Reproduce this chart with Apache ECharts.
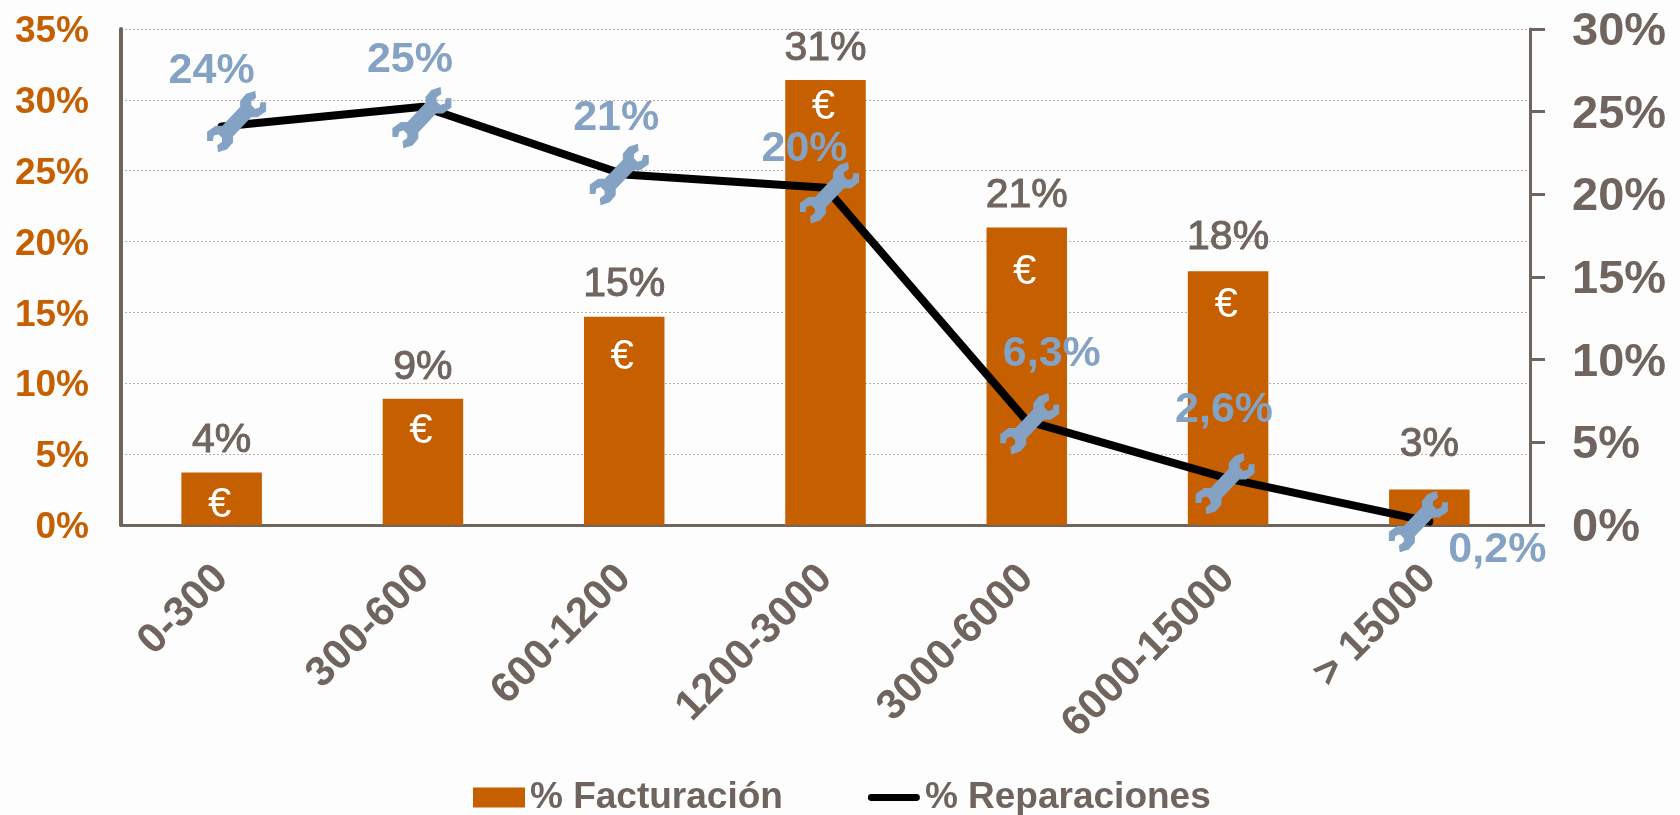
<!DOCTYPE html>
<html><head><meta charset="utf-8">
<style>html,body{margin:0;padding:0;background:#fdfdfd}#c{width:1680px;height:815px}</style>
<script src="https://cdn.jsdelivr.net/npm/echarts@6/dist/echarts.min.js"></script>
</head><body><div id="c"></div>
<script>
const categories = ['0-300','300-600','600-1200','1200-3000','3000-6000','6000-15000','> 15000'];
const facturacion = [3.7, 8.9, 14.7, 31.4, 21.0, 17.9, 2.5];
const reparaciones = [24.1, 25.3, 21.2, 20.4, 6.3, 2.8, 0.2];
const facturacionLabels = ['4%','9%','15%','31%','21%','18%','3%'];
const euroLabels = ['€','€','€','€','€','€',''];
const reparacionesLabels = ['24%','25%','21%','20%','6,3%','2,6%','0,2%'];
const leftTicks = [0,5,10,15,20,25,30,35];
const rightTicks = [0,5,10,15,20,25,30];
const wrenchOffsets = [[15,-5],[-1,11],[-5,0],[4,5],[3,3],[-3,5],[-11,0]];
const labelOffsets = [[-25,-50],[-12,-58],[-3,-56],[-25,-44],[22,-70],[-1,-74],[79,28]];
const barLabelOffsets = [0,0,0,0,0,-2,-13];
const euroOffsets = [6,6,14,0,18,7,0];

const ORANGE='#C55F00', BROWN='#6F645E', BLUE='#84A2C3';
const FONT='"Liberation Sans", Arial, sans-serif';
const WRENCH='path://M135 30L160 22L162 40L148 50L148 63L160 75L175 70L178 55L192 55L192 80L168 97L148 97L94 154L94 172L77 192L52 200L50 182L64 172L64 159L52 147L37 152L34 167L20 167L20 142L44 125L64 125L118 68L118 50Z';
const LEGEND_LINE='path://M0 0L0 0M0 20L0 20M3 6.5H49A3.5 3.5 0 0 1 49 13.5H3A3.5 3.5 0 0 1 3 6.5Z';

const chart = echarts.init(document.getElementById('c'), null, {renderer:'canvas'});
chart.setOption({
  animation:false,
  backgroundColor:'#fdfdfd',
  textStyle:{fontFamily:FONT},
  grid:{left:121,right:150,top:29,bottom:290,containLabel:false},
  legend:{
    left:468, top:774, itemGap:85, itemWidth:52, itemHeight:20,
    textStyle:{fontSize:37,fontWeight:'bold',color:BROWN,fontFamily:FONT},
    data:[
      {name:'% Facturación',icon:'rect',itemStyle:{color:ORANGE,borderWidth:0}},
      {name:'% Reparaciones',icon:LEGEND_LINE,itemStyle:{color:'#000',borderColor:'#000',borderWidth:0}}
    ]
  },
  xAxis:{
    type:'category',data:categories,
    axisLine:{lineStyle:{color:BROWN,width:3}},
    axisTick:{show:false},
    axisLabel:{interval:0,rotate:45,margin:47,fontSize:42,fontWeight:'bold',color:BROWN,fontFamily:FONT}
  },
  yAxis:[
    {type:'value',min:0,max:35,interval:5,
     axisLine:{show:true,lineStyle:{color:BROWN,width:4}},
     axisTick:{show:false},
     axisLabel:{margin:32,
       rich:{a:{fontSize:37,fontWeight:'bold',color:ORANGE,fontFamily:FONT,padding:[6,0,0,0]}},
       formatter:v=>leftTicks.includes(v)?'{a|'+v+'%}':''},
     splitLine:{show:true,lineStyle:{color:'#B9B0AB',width:1,type:[2,2]}}},
    {type:'value',min:0,max:30,interval:5,position:'right',
     axisLine:{show:true,lineStyle:{color:BROWN,width:3}},
     axisTick:{show:true,length:15,lineStyle:{color:BROWN,width:3}},
     axisLabel:{margin:42,
       rich:{a:{fontSize:47,fontWeight:'bold',color:BROWN,fontFamily:FONT,padding:[6,0,0,0]}},
       formatter:v=>rightTicks.includes(v)?'{a|'+v+'%}':''},
     splitLine:{show:false}}
  ],
  series:[
    {name:'% Facturación',type:'bar',yAxisIndex:0,barWidth:'40%',barGap:'-100%',
     data:facturacion.map((v,i)=>({value:v,label:{offset:[0,barLabelOffsets[i]]}})),itemStyle:{color:ORANGE},
     label:{show:true,position:'top',distance:11,fontSize:41,fontWeight:'normal',color:BROWN,fontFamily:FONT,
       textBorderColor:BROWN,textBorderWidth:1,
       formatter:p=>facturacionLabels[p.dataIndex]}},
    {name:'euro',type:'bar',yAxisIndex:0,barWidth:'40%',barGap:'-100%',
     data:facturacion.map((v,i)=>({value:v,label:{offset:[-2,euroOffsets[i]]}})),itemStyle:{color:'transparent'},silent:true,
     label:{show:true,position:'insideTop',distance:6,fontSize:42,color:'#fff',fontFamily:FONT,
       formatter:p=>euroLabels[p.dataIndex]}},
    {name:'% Reparaciones',type:'line',yAxisIndex:1,z:5,
     symbol:WRENCH,symbolSize:[58,60],showAllSymbol:true,
     lineStyle:{color:'#000',width:8,cap:'round',join:'round'},
     itemStyle:{color:BLUE,borderColor:BLUE,borderWidth:1},
     data:reparaciones.map((v,i)=>({
       value:v,symbolOffset:wrenchOffsets[i],
       label:{show:true,position:'inside',offset:labelOffsets[i],fontSize:43,fontWeight:'bold',color:BLUE,fontFamily:FONT,
         formatter:reparacionesLabels[i]}
     }))}
  ]
});
</script></body></html>
